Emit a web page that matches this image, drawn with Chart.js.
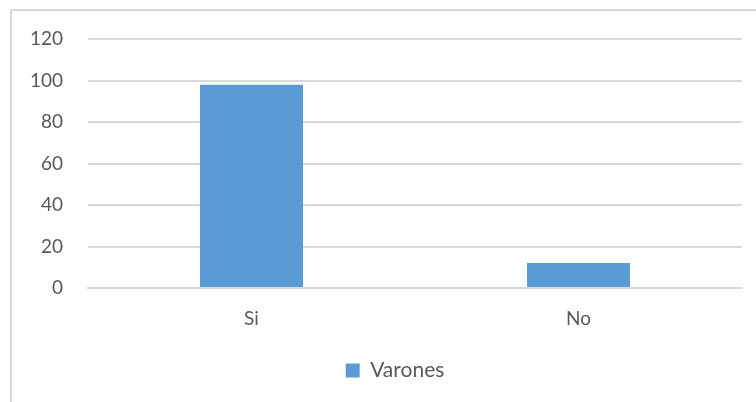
<!DOCTYPE html>
<html>
<head>
<meta charset="utf-8">
<script src="https://cdn.jsdelivr.net/npm/chart.js@4"></script>
<style>
  html, body { margin: 0; padding: 0; background: #fff; }
  #wrap { position: relative; width: 756px; height: 402px; overflow: hidden; }
  #frame { position: absolute; left: 10px; top: 9px; width: 800px; height: 500px;
           border-left: 2px solid #d9d9d9; border-top: 2px solid #d9d9d9; }
  canvas { position: absolute; left: 0; top: 0; }
</style>
</head>
<body>
<div id="wrap">
  <div id="frame"></div>
  <canvas id="myChart" width="756" height="402"></canvas>
</div>
<script>
const categories = ['Si', 'No'];
const varones = [98, 12];
const yTicks = [0, 20, 40, 60, 80, 100, 120];

document.addEventListener('DOMContentLoaded', function() {
    const textColor = '#595959';
    const gridColor = '#d9d9d9';
    const fontFamily = 'Lato, "Open Sans", sans-serif';

    const data = {
        labels: categories,
        datasets: [{
            label: 'Varones',
            data: varones,
            backgroundColor: '#5b9bd5',
            borderWidth: 0,
            barPercentage: 0.315,
            categoryPercentage: 1
        }]
    };

    // the original chart box is wider than the picture, so its legend sits right of centre
    const shiftLegend = {
        id: 'shiftLegend',
        afterLayout: function(chart) {
            chart.legend.left += 24;
            chart.legend.right += 24;
        }
    };

    const config = {
        type: 'bar',
        data: data,
        plugins: [shiftLegend],
        options: {
            responsive: false,
            animation: false,
            layout: { padding: { top: 39, right: 14, bottom: 11, left: 0 } },
            plugins: {
                tooltip: { enabled: false },
                legend: {
                    position: 'bottom',
                    labels: {
                        color: textColor,
                        font: { family: fontFamily, size: 21 },
                        boxWidth: 14,
                        boxHeight: 14,
                        padding: 10
                    }
                }
            },
            scales: {
                x: {
                    grid: { display: false },
                    border: { display: true, color: gridColor, width: 2 },
                    ticks: { color: textColor, font: { family: fontFamily, size: 19 }, padding: 11 },
                    afterFit: function(scale) { scale.height = 62; }
                },
                y: {
                    min: 0,
                    max: 120,
                    grid: { color: gridColor, lineWidth: 2, drawTicks: false },
                    border: { display: false },
                    ticks: {
                        stepSize: 20,
                        color: textColor,
                        font: { family: fontFamily, size: 19 },
                        padding: 25,
                        callback: function(v) { return yTicks.includes(v) ? v : ''; }
                    },
                    afterFit: function(scale) { scale.width = 88; }
                }
            }
        }
    };

    const ctx = document.getElementById('myChart').getContext('2d');
    const myChart = new Chart(ctx, config);
});
</script>
</body>
</html>
